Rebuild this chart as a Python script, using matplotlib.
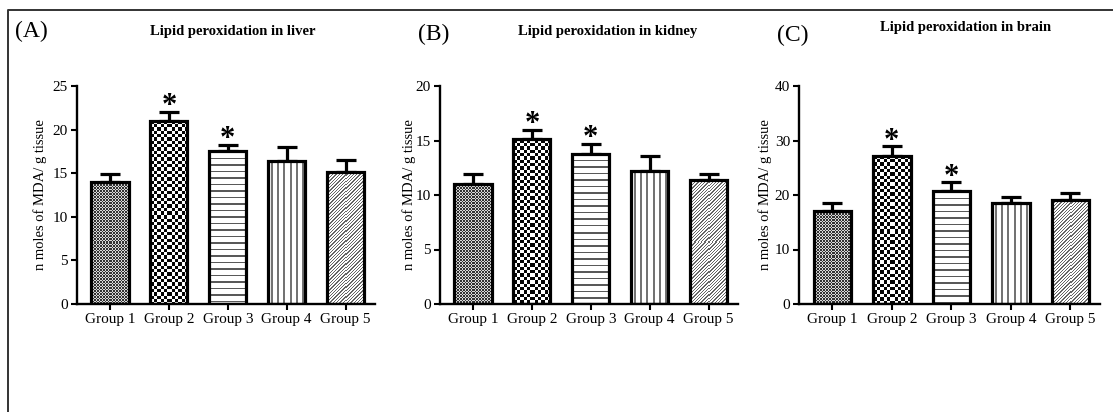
import numpy as np
import matplotlib
matplotlib.use('Agg')
import matplotlib.pyplot as plt
from matplotlib.lines import Line2D

# ---------------- data ----------------
groups = ['Group 1', 'Group 2', 'Group 3', 'Group 4', 'Group 5']
liver_mean = [14.0, 21.0, 17.5, 16.4, 15.1]
liver_err = [0.9, 1.05, 0.75, 1.65, 1.4]
kidney_mean = [11.0, 15.1, 13.8, 12.2, 11.4]
kidney_err = [0.95, 0.9, 0.9, 1.4, 0.55]
brain_mean = [17.1, 27.2, 20.7, 18.6, 19.0]
brain_err = [1.5, 1.7, 1.6, 1.1, 1.4]
significant = [False, True, True, False, False]
panel_letters = ['(A)', '(B)', '(C)']
titles = ['Lipid peroxidation in liver', 'Lipid peroxidation in kidney',
          'Lipid peroxidation in brain']
y_max = [25, 20, 40]
y_step = [5, 5, 10]
y_label = 'n moles of MDA/ g tissue'

means = [liver_mean, kidney_mean, brain_mean]
errs = [liver_err, kidney_err, brain_err]

# ---------------- style ----------------
W, H = 1113, 412
plt.rcParams['font.family'] = ['Liberation Serif', 'DejaVu Serif']
fig = plt.figure(figsize=(W / 100, H / 100), dpi=100)
fig.patch.set_facecolor('white')

# axes boxes in pixels: left, right, top(y=max), bottom(y=0)
boxes = [(77, 375, 86, 304), (440, 738, 86, 304), (799, 1100, 86, 304)]
ylab_x = [-0.10, -0.08, -0.09]
letter_pos = [(15, 31), (418, 34), (777, 35)]
title_pos = [(233, 31), (608, 32), (966, 28)]


def pattern(kind, h, w):
    yy, xx = np.mgrid[0:h, 0:w].astype(float)
    img = np.ones((h, w))
    if kind == 0:  # fine checker
        c = ((np.floor(xx / 1.5) + np.floor(yy / 1.5)) % 2) == 0
        img[c] = 0.2
        img[~c] = 0.85
    elif kind == 1:  # coarse checkerboard
        c = ((np.floor(xx / 3.35) + np.floor(yy / 3.35)) % 2) == 0
        img[c] = 0.02
        img[~c] = 1.0
    elif kind == 2:  # horizontal lines
        m = (yy % 6.5) < 1.4
        img[m] = 0.35
    elif kind == 3:  # vertical lines
        m = ((xx + 3) % 6.0) < 1.3
        img[m] = 0.45
    elif kind == 4:  # diagonal ////
        m = ((xx + yy) % 3.3) < 1.3
        img[m] = 0.4
    return img


x = np.arange(len(groups))
for p in range(3):
    l, r, t, b = boxes[p]
    ax = fig.add_axes([l / W, 1 - b / H, (r - l) / W, (b - t) / H])
    xlim = (-0.56, 4.5)
    ylim = (0, y_max[p])
    bars = ax.bar(x, means[p], width=0.63, facecolor='none', edgecolor='black',
                  linewidth=2.3, zorder=3)
    ax.set_xlim(*xlim)
    ax.set_ylim(*ylim)
    ax.errorbar(x, means[p], yerr=[np.zeros(len(x)), errs[p]], fmt='none',
                ecolor='black', elinewidth=2.3, capsize=7.5, capthick=2.3, zorder=2)
    # fill patterns clipped to each bar
    for i, bar in enumerate(bars):
        bb = bar.get_window_extent()
        pw = max(int(round(bb.width)), 2)
        ph = max(int(round(bb.height)), 2)
        img = pattern(i, ph, pw)
        im = ax.imshow(img, extent=(bar.get_x(), bar.get_x() + bar.get_width(),
                                    0, bar.get_height()),
                       cmap='gray', vmin=0, vmax=1, aspect='auto',
                       interpolation='nearest', origin='upper', zorder=2.5)
        im.set_clip_path(bar)
    for i in range(len(x)):
        if significant[i]:
            ax.annotate('*', xy=(x[i], means[p][i] + errs[p][i]), xytext=(0, -1.5),
                        textcoords='offset points', ha='center', va='baseline',
                        fontsize=22, fontweight='bold', color='black')
    ax.set_xlim(*xlim)
    ax.set_ylim(*ylim)
    ax.set_yticks(np.arange(0, y_max[p] + 0.1, y_step[p]))
    ax.set_xticks(x)
    ax.set_xticklabels(groups)
    for s in ['top', 'right']:
        ax.spines[s].set_visible(False)
    for s in ['left', 'bottom']:
        ax.spines[s].set_linewidth(1.7)
    ax.tick_params(axis='both', direction='out', length=4, width=1.5,
                   labelsize=11, colors='black', pad=2.5)
    ax.set_ylabel(y_label, fontsize=10.5)
    ax.yaxis.set_label_coords(ylab_x[p], 0.5)
    fig.text(letter_pos[p][0] / W, 1 - letter_pos[p][1] / H, panel_letters[p],
             fontsize=17, ha='left', va='center')
    fig.text(title_pos[p][0] / W, 1 - title_pos[p][1] / H, titles[p],
             fontsize=10.5, fontweight='bold', ha='center', va='center')

# frame (top and left edges visible)
fig.add_artist(Line2D([8 / W, 8 / W, 1.0], [0.0, 1 - 10 / H, 1 - 10 / H],
                      transform=fig.transFigure, color='#333333', linewidth=1.4))

fig.savefig('out.png', dpi=100, facecolor='white')
